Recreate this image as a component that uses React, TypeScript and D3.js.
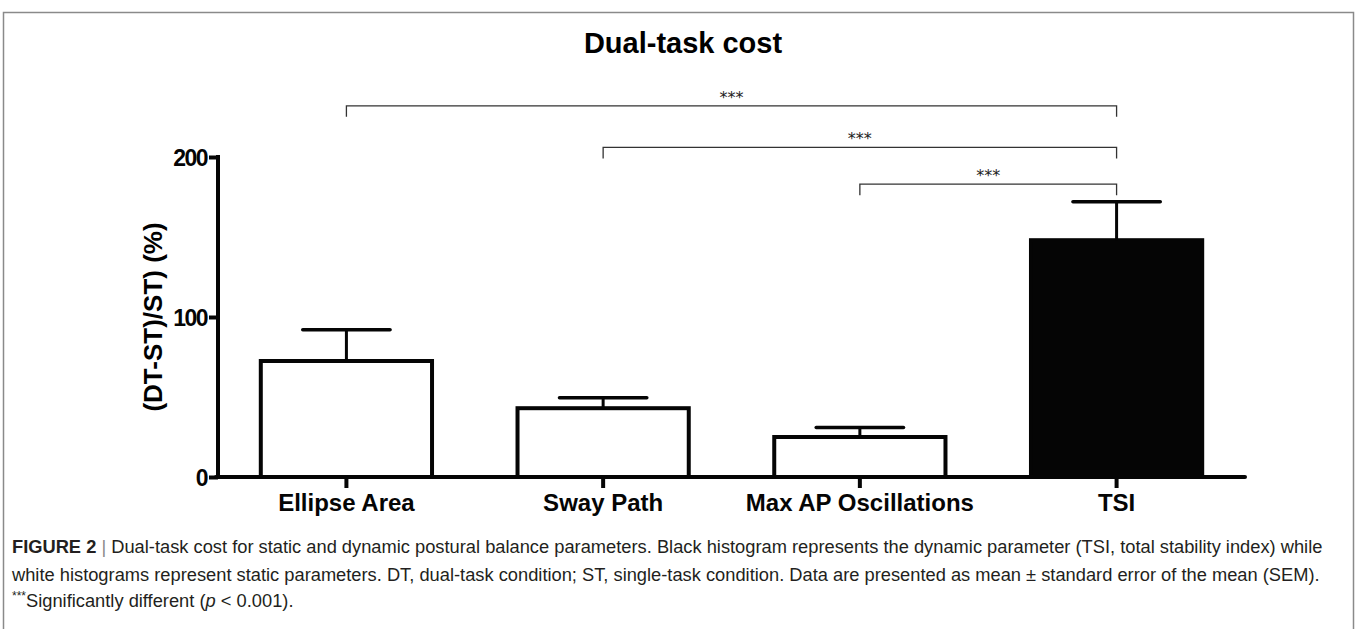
import { useEffect, useRef } from 'react';
import * as d3 from 'd3';

const categories = ['Ellipse Area', 'Sway Path', 'Max AP Oscillations', 'TSI'];
const means = [72.5, 43, 25, 148];
const sems = [19.5, 6.5, 6, 24];
const fills = ['#ffffff', '#ffffff', '#ffffff', '#050505'];
const yTicks = [0, 100, 200];

// pairwise comparisons: from, to, bracket level (in y units), label
const comparisons: [number, number, number, string][] = [
  [0, 3, 232, '***'],
  [1, 3, 206, '***'],
  [2, 3, 183, '***'],
];

const W = 1357;
const H = 629;
const SANS = 'Liberation Sans, Arial, sans-serif';

export default function App() {
  const svgRef = useRef<SVGSVGElement>(null);

  useEffect(() => {
    if (!svgRef.current) return;
    const svg = d3.select(svgRef.current);
    svg.selectAll('*').remove();

    // frame (open at the bottom, caption box continues)
    svg.append('rect')
      .attr('x', 3.5).attr('y', 12.5)
      .attr('width', 1350).attr('height', H + 20)
      .attr('fill', 'none')
      .attr('stroke', '#8a8a8a').attr('stroke-width', 1.5);

    const x = d3.scaleBand<string>()
      .domain(categories)
      .range([218, 1245])
      .paddingInner(0.333)
      .paddingOuter(0.1667);

    const y = d3.scaleLinear().domain([0, 200]).range([477, 157]);

    const g = svg.append('g');

    // title
    svg.append('text')
      .attr('x', 683)
      .attr('y', 53)
      .attr('text-anchor', 'middle')
      .style('font-family', SANS)
      .style('font-weight', 'bold')
      .style('font-size', '29px')
      .text('Dual-task cost');

    // bars
    g.selectAll('.bar')
      .data(categories)
      .join('rect')
      .attr('class', 'bar')
      .attr('x', (d) => x(d)!)
      .attr('y', (d, i) => y(means[i]))
      .attr('width', x.bandwidth())
      .attr('height', (d, i) => y(0) - y(means[i]))
      .attr('fill', (d, i) => fills[i])
      .attr('stroke', '#050505')
      .attr('stroke-width', 4);

    // error bars (upper only)
    const capHalf = x.bandwidth() * 0.255;
    categories.forEach((c, i) => {
      const cx = x(c)! + x.bandwidth() / 2;
      g.append('line')
        .attr('x1', cx).attr('x2', cx)
        .attr('y1', y(means[i])).attr('y2', y(means[i] + sems[i]))
        .attr('stroke', '#050505').attr('stroke-width', 3);
      g.append('line')
        .attr('x1', cx - capHalf).attr('x2', cx + capHalf)
        .attr('y1', y(means[i] + sems[i])).attr('y2', y(means[i] + sems[i]))
        .attr('stroke', '#050505').attr('stroke-width', 3.5)
        .attr('stroke-linecap', 'round');
    });

    // y axis
    const yAxis = g.append('g').attr('transform', 'translate(218,0)');
    yAxis.call(d3.axisLeft(y).tickValues(yTicks).tickSize(9).tickPadding(2));
    yAxis.select('.domain').remove();
    yAxis.append('line')
      .attr('x1', 0).attr('x2', 0)
      .attr('y1', y(200) - 2).attr('y2', y(0) + 2)
      .attr('stroke', '#050505').attr('stroke-width', 4);
    yAxis.selectAll('.tick line').attr('stroke', '#050505').attr('stroke-width', 4);
    yAxis.selectAll('.tick text')
      .attr('fill', '#050505')
      .attr('dy', '0.36em')
      .style('font-family', SANS)
      .style('font-weight', 'bold')
      .style('font-size', '23px')
      .style('letter-spacing', '-1.5px');

    // x axis
    const xAxis = g.append('g').attr('transform', `translate(0,${y(0)})`);
    xAxis.call(d3.axisBottom(x).tickSize(11).tickPadding(6));
    xAxis.select('.domain').remove();
    xAxis.append('line')
      .attr('x1', 216).attr('x2', 1245)
      .attr('y1', 0).attr('y2', 0)
      .attr('stroke', '#050505').attr('stroke-width', 4)
      .attr('stroke-linecap', 'round');
    xAxis.selectAll('.tick line').attr('stroke', '#050505').attr('stroke-width', 4);
    xAxis.selectAll('.tick text')
      .attr('fill', '#050505')
      .style('font-family', SANS)
      .style('font-weight', 'bold')
      .style('font-size', '24px');

    // y label
    svg.append('text')
      .attr('transform', 'translate(162,317) rotate(-90)')
      .attr('text-anchor', 'middle')
      .style('font-family', SANS)
      .style('font-weight', 'bold')
      .style('font-size', '26px')
      .text('(DT-ST)/ST) (%)');

    // significance brackets
    comparisons.forEach(([a, b, lvl, label]) => {
      const x1 = x(categories[a])! + x.bandwidth() / 2;
      const x2 = x(categories[b])! + x.bandwidth() / 2;
      const yy = y(lvl);
      g.append('path')
        .attr('d', `M${x1},${yy + 11}V${yy}H${x2}V${yy + 11}`)
        .attr('fill', 'none')
        .attr('stroke', '#333')
        .attr('stroke-width', 1.3);
      g.append('text')
        .attr('x', (x1 + x2) / 2)
        .attr('y', yy - 3)
        .attr('text-anchor', 'middle')
        .style('font-family', 'DejaVu Sans, sans-serif')
        .style('font-size', '16px')
        .attr('fill', '#222')
        .text(label);
    });

    // caption
    const cap = svg.append('g')
      .style('font-family', 'Liberation Sans Narrow, Liberation Sans, sans-serif')
      .style('font-size', '18.3px')
      .attr('fill', '#231f20');

    const l1 = cap.append('text').attr('x', 12).attr('y', 553);
    l1.append('tspan').style('font-weight', 'bold').text('FIGURE 2');
    l1.append('tspan').attr('fill', '#888').text(' | ');
    l1.append('tspan').text('Dual-task cost for static and dynamic postural balance parameters. Black histogram represents the dynamic parameter (TSI, total stability index) while');

    cap.append('text').attr('x', 12).attr('y', 581)
      .text('white histograms represent static parameters. DT, dual-task condition; ST, single-task condition. Data are presented as mean \u00b1 standard error of the mean (SEM).');

    const l3 = cap.append('text').attr('x', 12).attr('y', 607);
    l3.append('tspan').style('font-size', '12px').attr('dy', -7).text('***');
    l3.append('tspan').attr('dy', 7).text('Significantly different (');
    l3.append('tspan').style('font-style', 'italic').text('p');
    l3.append('tspan').text(' < 0.001).');
  }, []);

  return (
    <div style={{ position: 'absolute', left: 0, top: 0, width: W, height: H, background: '#fff' }}>
      <svg ref={svgRef} width={W} height={H} style={{ display: 'block' }} />
    </div>
  );
}
